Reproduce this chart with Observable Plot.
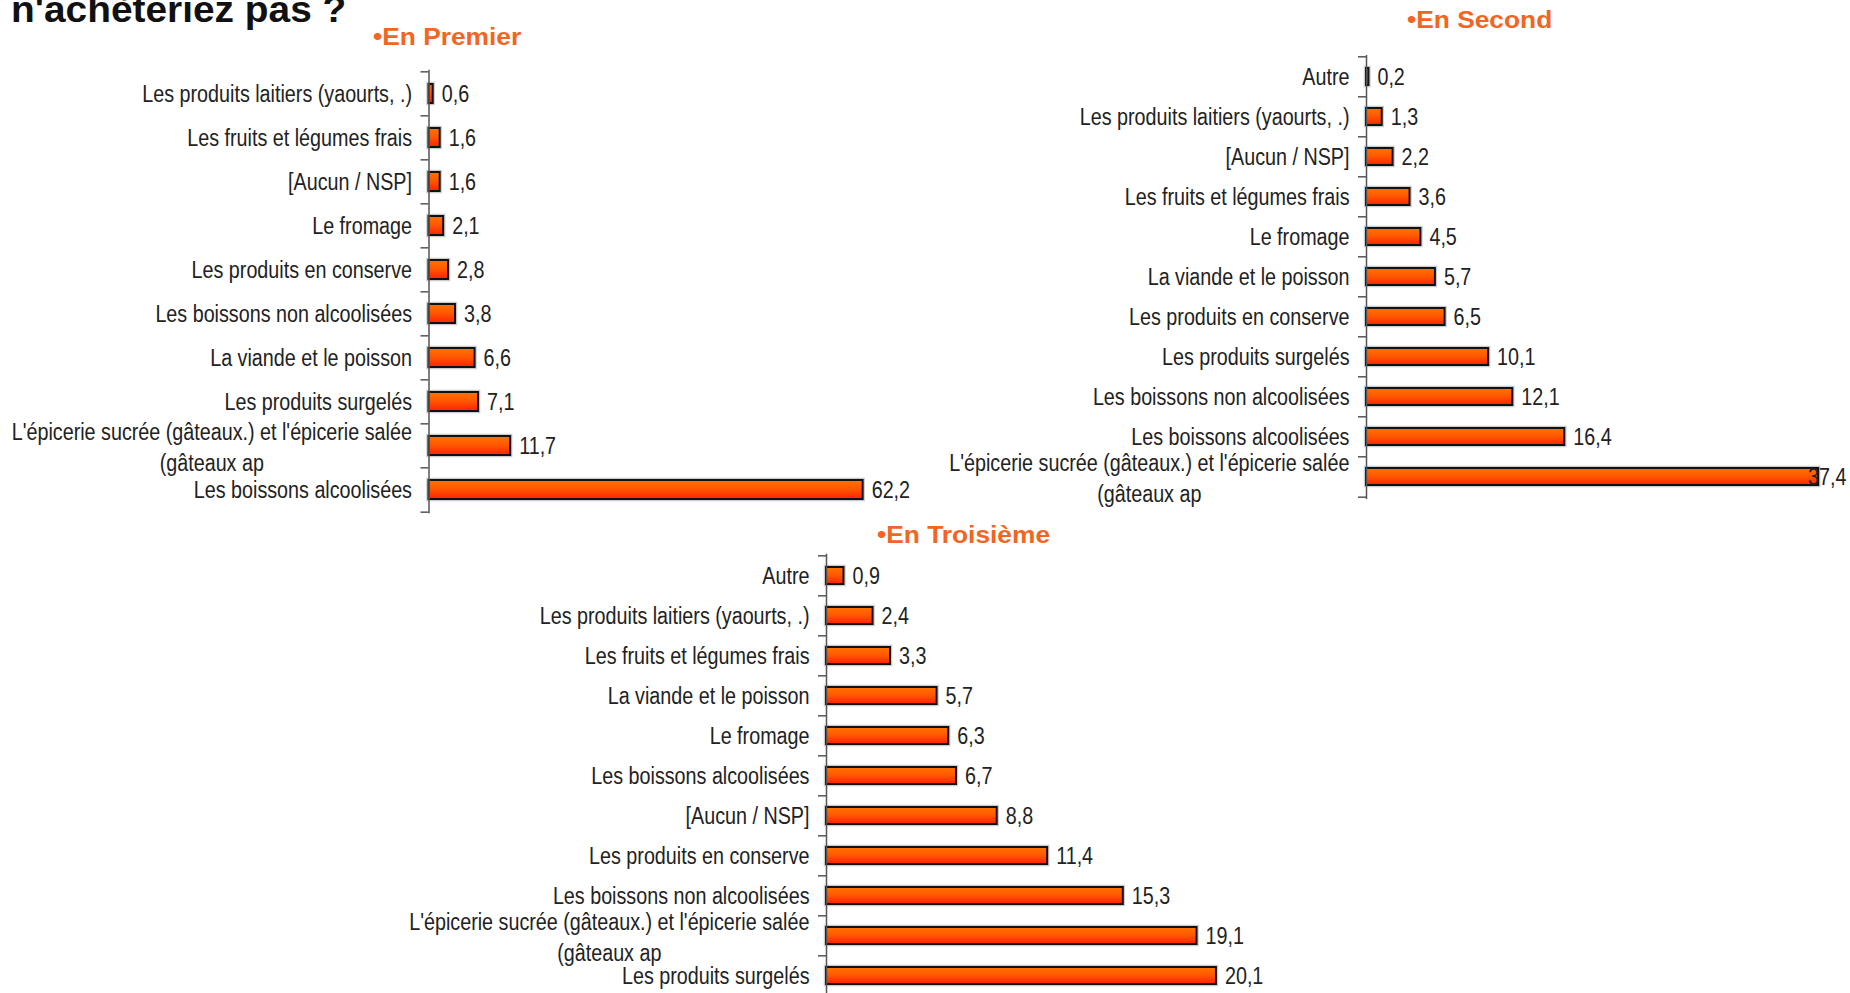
<!DOCTYPE html>
<html><head><meta charset="utf-8">
<script src="https://cdn.jsdelivr.net/npm/d3@7"></script>
<script src="https://cdn.jsdelivr.net/npm/@observablehq/plot@0.6"></script>
<style>
html,body{margin:0;padding:0;background:#fff;overflow:hidden;width:1850px;height:993px}
#root{position:relative;width:1850px;height:993px;overflow:hidden;background:#fff}
.panel{position:absolute}
.title{position:absolute;font-family:"Liberation Sans",Arial,sans-serif;font-weight:bold;line-height:1;white-space:nowrap;transform-origin:0 0}
</style></head><body><div id="root"></div>
<script>
// ---------- DATA ----------
const mainTitle = "n'achèteriez pas ?";
const panelTitles = ["•En Premier", "•En Second", "•En Troisième"];

const premierCats = [
  "Les produits laitiers (yaourts, .)",
  "Les fruits et légumes frais",
  "[Aucun / NSP]",
  "Le fromage",
  "Les produits en conserve",
  "Les boissons non alcoolisées",
  "La viande et le poisson",
  "Les produits surgelés",
  "L'épicerie sucrée (gâteaux.) et l'épicerie salée (gâteaux ap",
  "Les boissons alcoolisées"
];
const premierVals = [0.6, 1.6, 1.6, 2.1, 2.8, 3.8, 6.6, 7.1, 11.7, 62.2];

const secondCats = [
  "Autre",
  "Les produits laitiers (yaourts, .)",
  "[Aucun / NSP]",
  "Les fruits et légumes frais",
  "Le fromage",
  "La viande et le poisson",
  "Les produits en conserve",
  "Les produits surgelés",
  "Les boissons non alcoolisées",
  "Les boissons alcoolisées",
  "L'épicerie sucrée (gâteaux.) et l'épicerie salée (gâteaux ap"
];
const secondVals = [0.2, 1.3, 2.2, 3.6, 4.5, 5.7, 6.5, 10.1, 12.1, 16.4, 37.4];

const troisiemeCats = [
  "Autre",
  "Les produits laitiers (yaourts, .)",
  "Les fruits et légumes frais",
  "La viande et le poisson",
  "Le fromage",
  "Les boissons alcoolisées",
  "[Aucun / NSP]",
  "Les produits en conserve",
  "Les boissons non alcoolisées",
  "L'épicerie sucrée (gâteaux.) et l'épicerie salée (gâteaux ap",
  "Les produits surgelés"
];
const troisiemeVals = [0.9, 2.4, 3.3, 5.7, 6.3, 6.7, 8.8, 11.4, 15.3, 19.1, 20.1];

// ---------- STYLE / LAYOUT ----------
const FONT = '"Liberation Sans",Arial,sans-serif';
const FS = 23.5;
const SX = 0.84;          // horizontal condensing (Arial Narrow look)
const TXT = "#222";
const ORANGE = "#f26522";
const VAL_DX = 8.5;
const LABEL_GAP = 17;
const WRAP_W = 425;

const root = document.getElementById("root");
const ctx = document.createElement("canvas").getContext("2d");
ctx.font = `${FS}px ${FONT}`;
const measure = s => ctx.measureText(s).width * SX;
const fmt = v => v.toFixed(1).replace(".", ",");

function wrap(s, maxW) {
  const words = s.split(" ");
  const lines = [];
  let cur = "";
  for (const w of words) {
    const t = cur ? cur + " " + w : w;
    if (cur && measure(t) > maxW) { lines.push(cur); cur = w; } else cur = t;
  }
  if (cur) lines.push(cur);
  return lines;
}

function addTitle(text, left, baseline, fs, color, sx) {
  const d = document.createElement("div");
  d.className = "title";
  d.textContent = text;
  d.style.left = left + "px";
  d.style.top = (baseline - 0.8465 * fs) + "px";
  d.style.fontSize = fs + "px";
  d.style.color = color;
  d.style.transform = `scaleX(${sx})`;
  root.appendChild(d);
}

function condense(svg) {
  svg.querySelectorAll("text").forEach(t => {
    let tr = t.getAttribute("transform");
    if (!tr) {
      const x = +(t.getAttribute("x") || 0), y = +(t.getAttribute("y") || 0);
      t.removeAttribute("x"); t.removeAttribute("y");
      tr = `translate(${x},${y})`;
    }
    t.setAttribute("transform", `${tr} scale(${SX},1)`);
  });
}

function panel(cfg, cats, vals, id) {
  const data = cats.map((c, i) => {
    const lines = wrap(c, WRAP_W);
    return {cat: c, value: vals[i], lines, label: lines.join("\n"), w: Math.max(...lines.map(measure))};
  });
  const n = cats.length;
  const step = (cfg.yBottom - cfg.yTop) / n;
  const marginRight = cfg.width - cfg.axisX - cfg.xMax * cfg.ppu;
  const single = data.filter(d => d.lines.length === 1);
  const multi = data.filter(d => d.lines.length > 1);
  const fits = d => cfg.axisX + d.value * cfg.ppu + VAL_DX + measure(fmt(d.value)) <= cfg.width - 3;
  const inside = data.filter(fits);
  const overflow = data.filter(d => !fits(d));
  const defs = () => {
    const g = d3.create("svg:defs");
    const lg = g.append("linearGradient").attr("id", id)
      .attr("x1", 0).attr("y1", 0).attr("x2", 0).attr("y2", 1);
    lg.append("stop").attr("offset", "0%").attr("stop-color", "#ff7400");
    lg.append("stop").attr("offset", "45%").attr("stop-color", "#ff5a00");
    lg.append("stop").attr("offset", "100%").attr("stop-color", "#ff2200");
    return g.node();
  };
  const axisStyle = {stroke: "#555", strokeWidth: 1.5};
  const chart = Plot.plot({
    width: cfg.width,
    height: cfg.height,
    marginLeft: cfg.axisX,
    marginRight,
    marginTop: cfg.yTop,
    marginBottom: cfg.height - cfg.yBottom,
    x: {domain: [0, cfg.xMax], axis: null},
    y: {domain: cats, axis: null, paddingInner: 0.57, paddingOuter: 0.285},
    style: {fontFamily: FONT, fontSize: FS + "px", color: TXT, background: "transparent", overflow: "visible"},
    marks: [
      defs,
      Plot.barX(data, {x: "value", y: "cat", fill: "none", stroke: "#9a9a9a", strokeWidth: 4.5, strokeOpacity: 0.5}),
      Plot.barX(data, {x: "value", y: "cat", fill: `url(#${id})`, stroke: "#111", strokeWidth: 2}),
      Plot.ruleX([0], axisStyle),
      Plot.ruleY(cats, {y: d => d, x1: 0, x2: 0, insetLeft: -8, dy: -step / 2, ...axisStyle}),
      Plot.ruleY([cats[n - 1]], {y: d => d, x1: 0, x2: 0, insetLeft: -8, dy: step / 2, ...axisStyle}),
      Plot.text(single, {y: "cat", text: "label", frameAnchor: "left", textAnchor: "end", dx: -LABEL_GAP, fill: TXT}),
      ...multi.map(d => Plot.text([d], {y: "cat", text: "label", frameAnchor: "left", textAnchor: "middle", lineHeight: 1.32, dx: -LABEL_GAP - d.w / 2, fill: TXT})),
      Plot.text(inside, {x: "value", y: "cat", text: d => fmt(d.value), textAnchor: "start", dx: VAL_DX, fill: TXT}),
      Plot.text(overflow, {y: "cat", text: d => fmt(d.value), frameAnchor: "right", textAnchor: "end", dx: marginRight - 4, fill: TXT})
    ]
  });
  condense(chart);
  chart.classList.add("panel");
  chart.style.left = cfg.left + "px";
  chart.style.top = cfg.top + "px";
  root.appendChild(chart);
}

panel({left: 0, top: 0, width: 925, height: 530, axisX: 428.5, yTop: 69.8, yBottom: 513.2, ppu: 6.98, xMax: 70},
      premierCats, premierVals, "grad1");
panel({left: 925, top: 0, width: 925, height: 520, axisX: 441, yTop: 55, yBottom: 499, ppu: 12.09, xMax: 38},
      secondCats, secondVals, "grad2");
panel({left: 380, top: 520, width: 925, height: 480, axisX: 446, yTop: 33.8, yBottom: 477.7, ppu: 19.4, xMax: 24},
      troisiemeCats, troisiemeVals, "grad3");

addTitle(mainTitle, 11, 22.5, 37, "#111", 1.05);
addTitle(panelTitles[0], 373, 45.5, 23.5, ORANGE, 1.12);
addTitle(panelTitles[1], 1407, 29, 23.5, ORANGE, 1.12);
addTitle(panelTitles[2], 877, 543.5, 23.5, ORANGE, 1.12);
</script>
</body></html>
